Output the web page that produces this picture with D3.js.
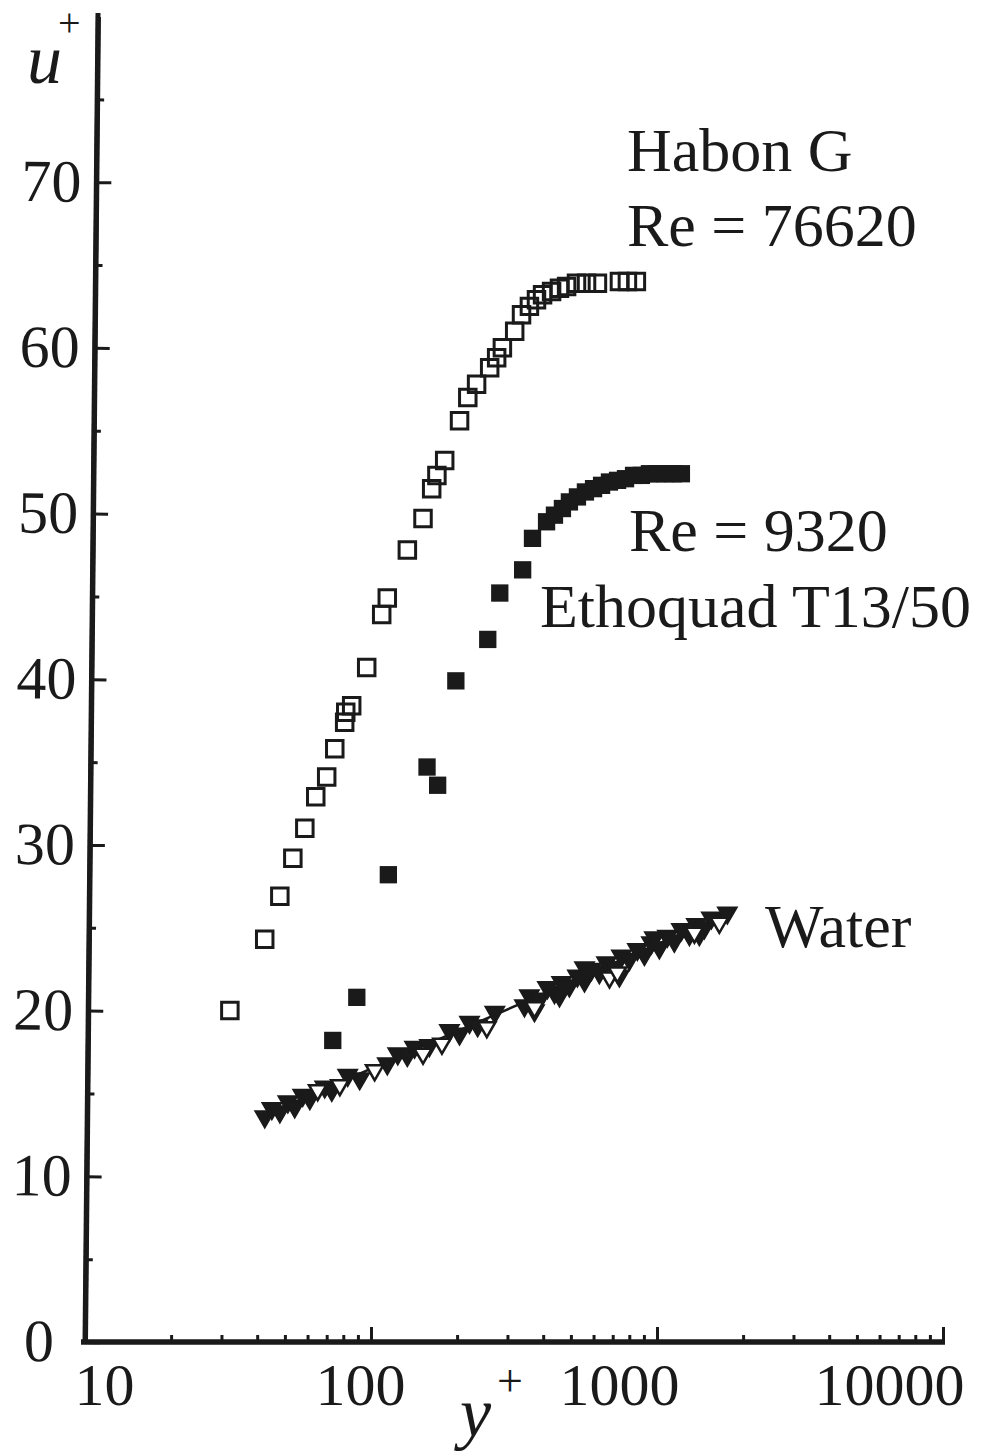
<!DOCTYPE html>
<html>
<head>
<meta charset="utf-8">
<script src="https://cdn.jsdelivr.net/npm/d3@7"></script>
<style>
  body { margin: 0; background: #fff; }
  svg text { font-family: "Liberation Serif", "Times New Roman", serif; fill: #1a1a1a; }
</style>
</head>
<body>
<svg id="chart"></svg>
<script>
// Habon G, Re = 76620 (open squares)
const habonYp = [32.1, 42.5, 48.0, 53.3, 58.7, 64.1, 70.0, 74.7, 80.9, 81.6, 85.6, 96.6, 109, 114, 134, 152, 163, 170, 181, 204, 218, 234, 260, 275, 288, 318, 336, 358, 379, 398, 428, 456, 483, 523, 567, 619, 739, 788, 847];
const habonUp = [20.0, 24.3, 26.9, 29.2, 31.0, 32.9, 34.1, 35.8, 37.4, 38.0, 38.4, 40.7, 43.9, 44.9, 47.8, 49.7, 51.5, 52.3, 53.2, 55.6, 57.0, 57.8, 58.8, 59.4, 60.0, 61.0, 62.0, 62.5, 62.9, 63.2, 63.4, 63.6, 63.7, 63.9, 63.9, 63.9, 64.0, 64.0, 64.0];

// Ethoquad T13/50, Re = 9320 (filled squares)
const ethoYp = [73.5, 89.2, 115, 157, 171, 198, 256, 282, 339, 367, 411, 438, 467, 494, 527, 562, 600, 640, 682, 728, 776, 828, 882, 941, 1003, 1070, 1141, 1217];
const ethoUp = [18.2, 20.8, 28.2, 34.7, 33.6, 39.9, 42.4, 45.2, 46.6, 48.5, 49.5, 49.9, 50.3, 50.7, 51.0, 51.3, 51.5, 51.7, 51.9, 52.0, 52.1, 52.3, 52.3, 52.4, 52.4, 52.4, 52.4, 52.4];

// Water (filled and open down triangles, plus the log-law line)
const waterFilledYp = [42.5, 45.0, 48.0, 51.2, 54.1, 57.7, 61.1, 68.9, 72.9, 82.9, 91.3, 114, 124, 134, 142, 160, 188, 204, 221, 236, 271, 344, 358, 389, 414, 438, 464, 494, 527, 558, 590, 629, 666, 710, 751, 801, 854, 904, 956, 1019, 1087, 1150, 1217, 1298, 1373, 1464, 1549, 1652, 1762, 558, 739, 979, 1406, 456, 373];
const waterFilledUp = [13.6, 14.1, 13.9, 14.5, 14.2, 14.9, 14.7, 15.4, 15.2, 16.1, 15.9, 16.8, 17.4, 17.3, 17.8, 17.9, 18.8, 18.6, 19.3, 19.1, 19.9, 20.3, 20.9, 20.7, 21.4, 21.1, 21.7, 21.5, 22.1, 21.8, 22.5, 22.3, 22.9, 22.6, 23.3, 23.1, 23.7, 23.4, 24.1, 23.8, 24.5, 24.2, 24.9, 24.6, 25.2, 25.0, 25.6, 25.5, 25.9, 22.6, 22.1, 24.4, 24.6, 20.9, 20.0];
const waterOpenYp = [65.1, 77.8, 103, 152, 177, 254, 373, 682, 727, 1351, 1652];
const waterOpenUp = [15.2, 15.5, 16.4, 17.4, 18.0, 19.0, 20.2, 22.0, 22.3, 24.7, 25.3];
const waterLineYp = [42.5, 1849];
const waterLineUp = [13.7, 26.0];

// axes
const xTicks = [10, 100, 1000, 10000];
const xMinorTicks = [20, 30, 40, 50, 60, 70, 80, 90, 200, 300, 400, 500, 600, 700, 800, 900, 2000, 3000, 4000, 5000, 6000, 7000, 8000, 9000];
const yTicks = [0, 10, 20, 30, 40, 50, 60, 70];
const yMinorTicks = [5, 15, 25, 35, 45, 55, 65, 75];

const ink = '#1a1a1a';

class Chart {
    constructor() {
        this.width = 990;
        this.height = 1454;
        this.svg = d3.select('#chart')
            .attr('width', this.width)
            .attr('height', this.height);
        this.x = d3.scaleLog().domain([10, 10000]).range([85, 943]);
        this.y = d3.scaleLinear().domain([0, 80]).range([1342, 16.4]);
        this.drawAxes();
        this.drawWater();
        this.drawSquares();
        this.drawLabels();
    }
    styleAxis(g, fontSize) {
        g.attr('font-family', null).attr('font-size', fontSize);
        g.select('.domain').attr('stroke', ink).attr('stroke-width', 5);
        g.selectAll('.tick line').attr('stroke', ink).attr('stroke-width', 3);
        g.selectAll('.tick text').attr('fill', ink);
    }
    drawAxes() {
        const { x, y, svg } = this;
        // the scanned y axis leans a little to the right
        const yAxisG = svg.append('g')
            .attr('transform', 'rotate(0.56, 85, 1342) translate(85, 0)');
        yAxisG.append('g')
            .call(d3.axisLeft(y).tickValues(yMinorTicks).tickSizeInner(-7).tickSizeOuter(0).tickFormat(''))
            .call(g => this.styleAxis(g, 60));
        yAxisG.append('g')
            .call(d3.axisLeft(y).tickValues(yTicks).tickSizeInner(-15).tickSizeOuter(0).tickPadding(15))
            .call(g => this.styleAxis(g, 60))
            .call(g => g.selectAll('.tick text').attr('dx', d => d === 0 ? -16 : 0));
        yAxisG.select('.domain').attr('d', `M0,${y(0)}V13`);

        const xAxisG = svg.append('g').attr('transform', `translate(0, ${y(0)})`);
        xAxisG.append('g')
            .call(d3.axisBottom(x).tickValues(xMinorTicks).tickSizeInner(-7).tickSizeOuter(0).tickFormat(''))
            .call(g => this.styleAxis(g, 60));
        const labelNudge = [19, -11, -38, -54];
        xAxisG.append('g')
            .call(d3.axisBottom(x).tickValues(xTicks).tickSizeInner(-15).tickSizeOuter(0).tickPadding(20).tickFormat(d3.format('d')))
            .call(g => this.styleAxis(g, 60))
            .call(g => g.selectAll('.tick text').attr('dx', (d, i) => labelNudge[i]));
        xAxisG.selectAll('.domain').attr('d', `M81,0H945`);
    }
    drawWater() {
        const { x, y, svg } = this;
        const line = d3.line().x(d => x(d[0])).y(d => y(d[1]));
        svg.append('path')
            .datum(d3.zip(waterLineYp, waterLineUp))
            .attr('d', line)
            .attr('fill', 'none')
            .attr('stroke', ink)
            .attr('stroke-width', 2.5);
        svg.append('g')
            .selectAll('path')
            .data(d3.zip(waterFilledYp, waterFilledUp))
            .enter()
            .append('path')
            .attr('d', d3.symbol(d3.symbolTriangle, 165))
            .attr('transform', d => `translate(${x(d[0])}, ${y(d[1])}) rotate(180)`)
            .attr('fill', ink)
            .attr('stroke', ink)
            .attr('stroke-width', 1.5);
        svg.append('g')
            .selectAll('path')
            .data(d3.zip(waterOpenYp, waterOpenUp))
            .enter()
            .append('path')
            .attr('d', d3.symbol(d3.symbolTriangle, 130))
            .attr('transform', d => `translate(${x(d[0])}, ${y(d[1])}) rotate(180)`)
            .attr('fill', '#fff')
            .attr('stroke', ink)
            .attr('stroke-width', 2.5);
    }
    drawSquares() {
        const { x, y, svg } = this;
        svg.append('g')
            .selectAll('path')
            .data(d3.zip(habonYp, habonUp))
            .enter()
            .append('path')
            .attr('d', d3.symbol(d3.symbolSquare, 272))
            .attr('transform', d => `translate(${x(d[0])}, ${y(d[1])})`)
            .attr('fill', 'none')
            .attr('stroke', ink)
            .attr('stroke-width', 3);
        svg.append('g')
            .selectAll('path')
            .data(d3.zip(ethoYp, ethoUp))
            .enter()
            .append('path')
            .attr('d', d3.symbol(d3.symbolSquare, 300))
            .attr('transform', d => `translate(${x(d[0])}, ${y(d[1])})`)
            .attr('fill', ink);
    }
    drawLabels() {
        const svg = this.svg;
        const notes = [
            { t: 'Habon G', x: 627, y: 171 },
            { t: 'Re = 76620', x: 627, y: 246 },
            { t: 'Re = 9320', x: 629, y: 551 },
            { t: 'Ethoquad T13/50', x: 540, y: 627 },
            { t: 'Water', x: 765, y: 947 }
        ];
        svg.append('g')
            .selectAll('text')
            .data(notes)
            .enter()
            .append('text')
            .attr('x', d => d.x)
            .attr('y', d => d.y)
            .attr('font-size', 62)
            .text(d => d.t);

        // u+ and y+ axis titles
        svg.append('text').attr('x', 27).attr('y', 83)
            .attr('font-size', 70).attr('font-style', 'italic').text('u');
        svg.append('text').attr('x', 58).attr('y', 36)
            .attr('font-size', 40).text('+');
        svg.append('text').attr('x', 460).attr('y', 1436)
            .attr('font-size', 70).attr('font-style', 'italic').text('y');
        svg.append('text').attr('x', 497).attr('y', 1396)
            .attr('font-size', 46).text('+');
    }
}

new Chart();
</script>
</body>
</html>
